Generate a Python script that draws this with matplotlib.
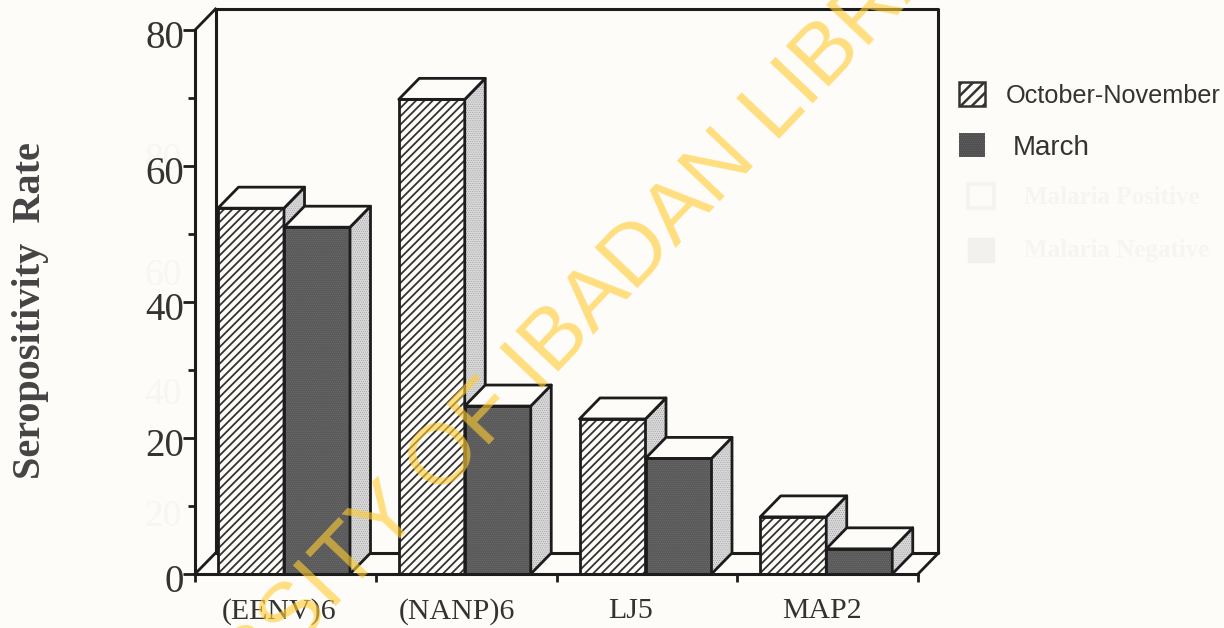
import matplotlib
matplotlib.use("Agg")
import matplotlib.pyplot as plt
from matplotlib.patches import Polygon, Rectangle
from matplotlib.transforms import ScaledTranslation

categories = ["(EENV)6", "(NANP)6", "LJ5", "MAP2"]
october = [53.8, 69.8, 22.8, 8.4]
march = [51.0, 24.7, 17.0, 3.7]
label_pos = [0.465, 1.45, 2.41, 3.47]
legend_names = ["October-November", "March"]
ghost_names = ["Malaria Positive", "Malaria Negative"]
ghost_ticks = ["80", "60", "40", "20"]

W, H = 1224, 628
PAPER = "#fefcf9"
LINE = "#1c1c1c"

fig = plt.figure(figsize=(W / 100, H / 100), dpi=100, facecolor=PAPER)
ax = fig.add_axes([195 / W, (H - 574) / H, 723 / W, 544 / H])
ax.set_xlim(0, 4)
ax.set_ylim(0, 80)
ax.patch.set_visible(False)

# depth of the fake 3d, 20 px each way
dx = 20.5 / 180.75
dy = 21 / 6.8
bar_w = 66 / 180.75
start = 23 / 180.75


def face(pts, fc, hatch=None, hc=LINE, hlw=1.0, z=3):
    plt.rcParams["hatch.linewidth"] = hlw
    ax.add_patch(Polygon(pts, closed=True, facecolor=fc, edgecolor=hc if hatch else fc,
                         hatch=hatch, lw=0, zorder=z, clip_on=False))
    ax.add_patch(Polygon(pts, closed=True, fill=False, edgecolor=LINE, lw=2.0,
                         joinstyle="round", zorder=z, clip_on=False))


def bar3d(x, v, front_fc, front_hatch, hc, hlw, z):
    x2 = x + bar_w
    face([(x, 0), (x2, 0), (x2, v), (x, v)], front_fc, front_hatch, hc, hlw, z=z)
    face([(x2, 0), (x2 + dx, dy), (x2 + dx, v + dy), (x2, v)], "#d8d8d8", "........", "#444444", 0.1, z=z)
    face([(x, v), (x2, v), (x2 + dx, v + dy), (x + dx, v + dy)], PAPER, z=z)


# back wall and floor
ax.plot([dx, dx, 4 + dx, 4 + dx, dx], [dy, 80 + dy, 80 + dy, dy, dy], color=LINE, lw=2.2,
        clip_on=False, zorder=1)
ax.plot([0, dx], [80, 80 + dy], color=LINE, lw=2.0, clip_on=False, zorder=1)
ax.plot([0, dx], [0, dy], color=LINE, lw=2.0, clip_on=False, zorder=1)
ax.plot([4, 4 + dx], [0, dy], color=LINE, lw=2.0, clip_on=False, zorder=1)

for i in range(len(categories)):
    x = i + start
    bar3d(x, october[i], PAPER, "////", "#333333", 1.3, 3 + i)
    bar3d(x + bar_w, march[i], "#5a5a5a", "........", "#8c8c8c", 0.1, 3 + i)

for s in ["top", "right"]:
    ax.spines[s].set_visible(False)
for s in ["left", "bottom"]:
    ax.spines[s].set_linewidth(2.2)
    ax.spines[s].set_color(LINE)
    ax.spines[s].set_zorder(20)

ax.set_yticks([0, 20, 40, 60, 80])
ax.set_yticks([10, 30, 50, 70], minor=True)
ax.tick_params(axis="y", which="major", length=9, width=2, pad=-1, labelsize=28,
               labelfontfamily="Liberation Serif", labelcolor="#333333", color=LINE)
ax.tick_params(axis="y", which="minor", length=5, width=2, color=LINE)
ax.set_xticks([0, 1, 2, 3, 4])
ax.set_xticklabels([])
ax.set_xticks(label_pos, categories, minor=True)
ax.tick_params(axis="x", which="major", length=6, width=2, color=LINE)
ax.tick_params(axis="x", which="minor", length=0, pad=17, labelsize=21.5,
               labelfontfamily="Liberation Serif", labelcolor="#333333")
# numbers sit a little under their ticks in the scan
shift = ScaledTranslation(0, -4 / 100, fig.dpi_scale_trans)
for t in ax.get_yticklabels():
    t.set_transform(t.get_transform() + shift)

fig.text(31 / W, 1 - 311 / H, "Seropositivity  Rate", rotation=90, ha="center", va="center",
         family="Liberation Serif", weight="bold", fontsize=29, color="#444444")

# legend
plt.rcParams["hatch.linewidth"] = 1.8
fig.add_artist(Rectangle((959 / W, 1 - 106 / H), 26 / W, 24 / H, transform=fig.transFigure,
                         facecolor=PAPER, edgecolor="#333333", hatch="///", lw=1.8))
plt.rcParams["hatch.linewidth"] = 0.1
fig.add_artist(Rectangle((959 / W, 1 - 157 / H), 26 / W, 24 / H, transform=fig.transFigure,
                         facecolor="#505050", edgecolor="#8c8c8c", hatch="........", lw=0))
fig.text(1006 / W, 1 - 96 / H, legend_names[0], family="Liberation Sans", fontsize=18.2,
         color="#333333", va="center")
fig.text(1013 / W, 1 - 148 / H, legend_names[1], family="Liberation Sans", fontsize=20,
         color="#333333", va="center")

# show-through from the other side of the page
fig.text(1024 / W, 1 - 197 / H, ghost_names[0], family="Liberation Serif", fontsize=18,
         color="#f7f5f2", va="center", weight="bold")
fig.text(1024 / W, 1 - 250 / H, ghost_names[1], family="Liberation Serif", fontsize=18,
         color="#f7f5f2", va="center", weight="bold")
fig.add_artist(Rectangle((968 / W, 1 - 208 / H), 26 / W, 24 / H, transform=fig.transFigure,
                         facecolor="none", edgecolor="#f6f4f1", lw=3))
fig.add_artist(Rectangle((968 / W, 1 - 262 / H), 26 / W, 24 / H, transform=fig.transFigure,
                         facecolor="#f3f1ee", edgecolor="#f3f1ee", lw=1))
for lab, gy in zip(ghost_ticks, [160, 276, 395, 517]):
    fig.text(163 / W, 1 - gy / H, lab, family="Liberation Serif", fontsize=27, color="#f8f6f3",
             ha="center", va="center", zorder=-1)

# library watermark
fig.text(532 / W, 1 - 368 / H, "UNIVERSITY OF IBADAN LIBRARY", rotation=46.5, rotation_mode="anchor",
         ha="center", va="center", family="Liberation Sans", fontsize=62, color="#ffcc33",
         alpha=0.62, zorder=30)

fig.savefig("out.png", dpi=100, facecolor=PAPER)
